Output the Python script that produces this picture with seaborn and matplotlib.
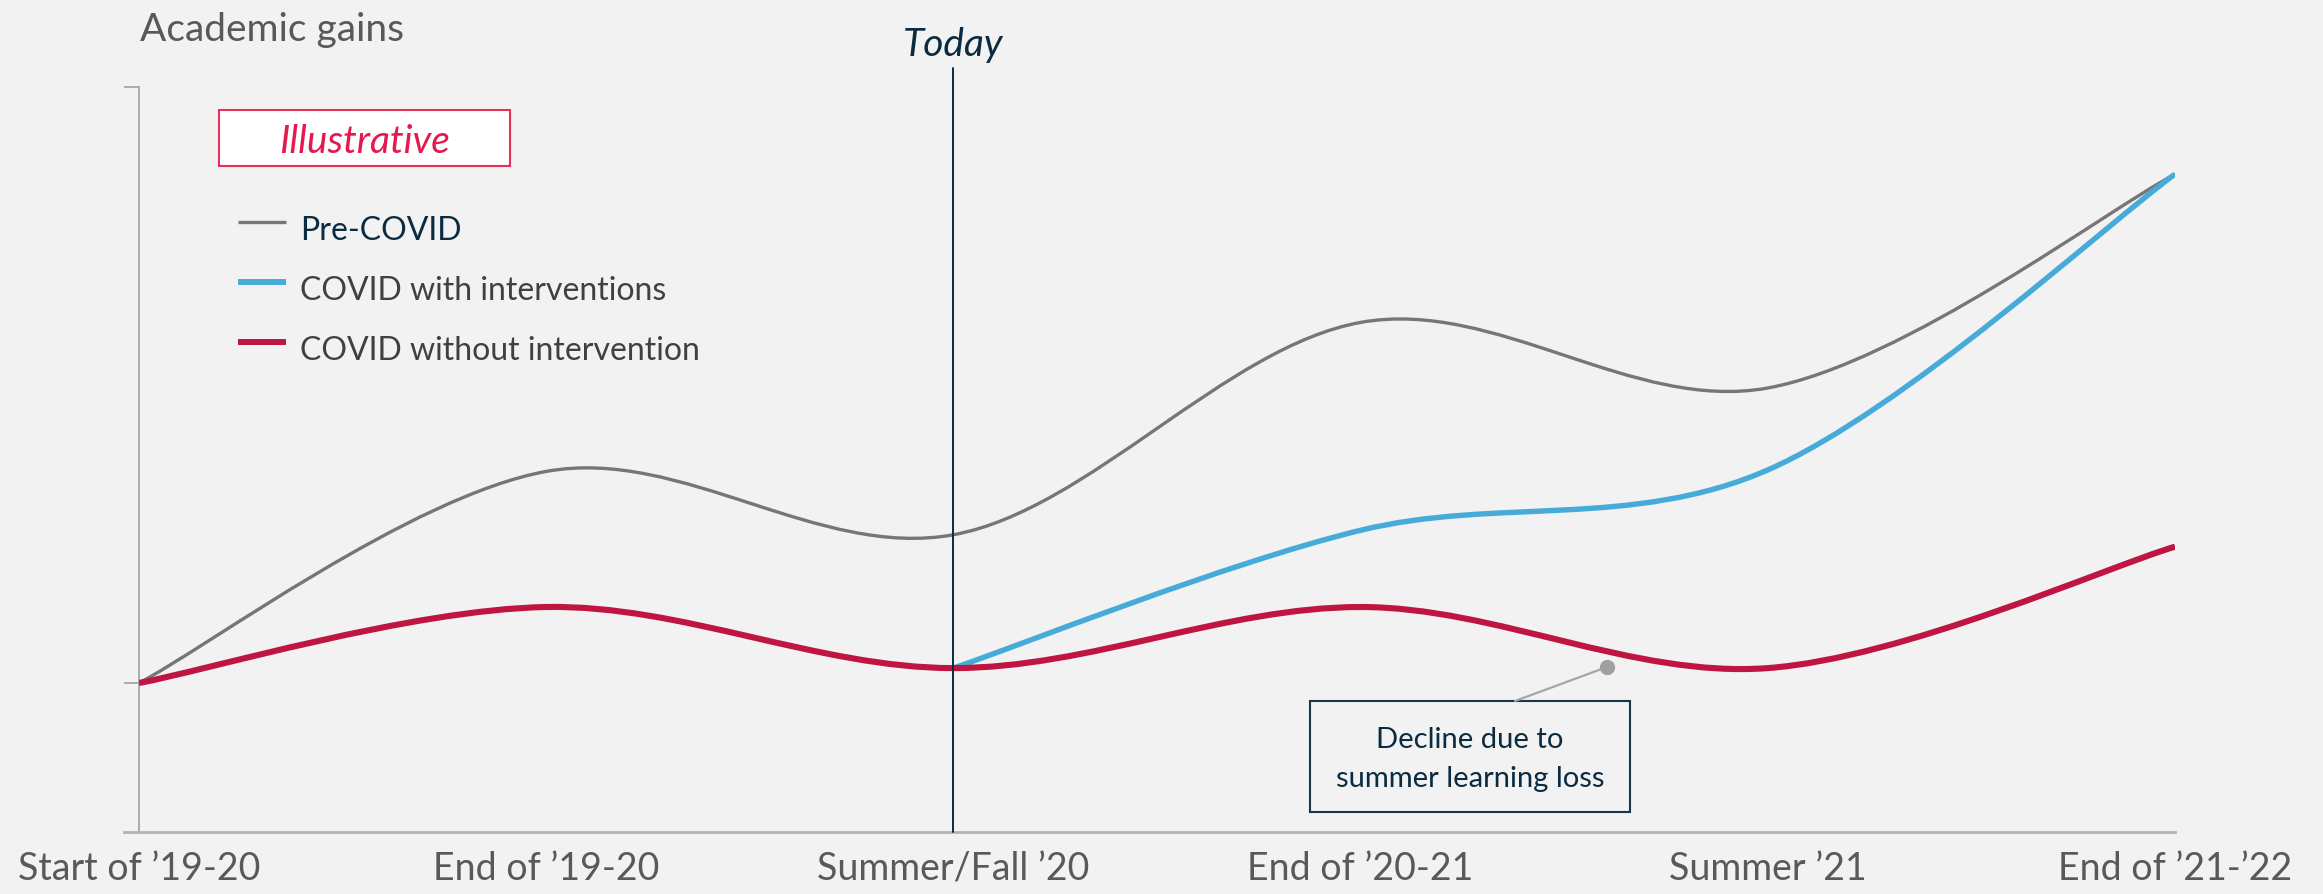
import numpy as np
import pandas as pd
import matplotlib
matplotlib.use("Agg")
import matplotlib.pyplot as plt
from matplotlib.path import Path
from matplotlib.patches import PathPatch, Rectangle
from matplotlib.lines import Line2D
import seaborn as sns

# ---------------- data ----------------
categories = ["Start of \u201919-20", "End of \u201919-20", "Summer/Fall \u201920",
              "End of \u201920-21", "Summer \u201921", "End of \u201921-\u201922"]
pre_covid = [20.0, 48.4, 39.9, 68.4, 59.6, 88.3]
with_interventions = [None, None, 22.0, 40.5, 48.6, 88.3]
without_intervention = [20.0, 30.2, 22.0, 30.2, 22.0, 38.3]
series_names = ["Pre-COVID", "COVID with interventions", "COVID without intervention"]
today_label = "Today"
today_category = "Summer/Fall \u201920"
y_axis_title = "Academic gains"
badge_text = "Illustrative"
callout_lines = ["Decline due to", "summer learning loss"]

# ---------------- style ----------------
BG = "#f2f2f2"
GRAY = "#767676"
BLUE = "#47abd9"
RED = "#be1641"
NAVY = "#0b2b40"
TXT = "#595959"
PINK = "#e5194f"

sns.set_theme(style="white", rc={"axes.facecolor": BG, "figure.facecolor": BG,
                                 "savefig.facecolor": BG})
plt.rcParams["font.family"] = ["Lato", "DejaVu Sans"]

W, H = 2323, 894
fig = plt.figure(figsize=(W / 100, H / 100), dpi=100)
ax = fig.add_axes([139 / W, (H - 832) / H, (2175 - 139) / W, (832 - 87) / H])

df = pd.DataFrame({"category": categories,
                   series_names[0]: pre_covid,
                   series_names[1]: with_interventions,
                   series_names[2]: without_intervention})
df["pos"] = np.arange(len(categories))
long = df.melt(id_vars=["category", "pos"], var_name="series", value_name="value").dropna()

ax.set_xlim(0, len(categories) - 1)
ax.set_ylim(0, 100)


def smooth_path(xs, ys):
    P = np.column_stack([xs, ys]).astype(float)
    n = len(P)
    verts = [P[0]]
    codes = [Path.MOVETO]
    for i in range(n - 1):
        p0 = P[i - 1] if i > 0 else P[i]
        p3 = P[i + 2] if i + 2 < n else P[i + 1]
        c1 = P[i] + (P[i + 1] - p0) / 6.0
        c2 = P[i + 1] - (p3 - P[i]) / 6.0
        verts += [c1, c2, P[i + 1]]
        codes += [Path.CURVE4] * 3
    return Path(verts, codes)


styles = {series_names[0]: (GRAY, 2.4, 2),
          series_names[1]: (BLUE, 3.9, 3),
          series_names[2]: (RED, 4.4, 4)}
for name, g in long.groupby("series", sort=False):
    color, lw, z = styles[name]
    p = smooth_path(g["pos"].values, g["value"].values)
    ax.add_patch(PathPatch(p, fill=False, edgecolor=color, lw=lw, zorder=z,
                           capstyle="butt", joinstyle="round"))

# today line
tx = categories.index(today_category)
ax.plot([tx, tx], [0, 102.6], color=NAVY, lw=1.4, zorder=6, clip_on=False)
ax.text(tx, 104.2, today_label, ha="center", va="baseline", fontsize=28,
        style="italic", color=NAVY, transform=ax.transData, clip_on=False)

# axes styling
sns.despine(ax=ax, top=True, right=True)
ax.spines["left"].set_color("#a6a6a6")
ax.spines["left"].set_linewidth(1.3)
ax.spines["bottom"].set_color("#b3b3b3")
ax.spines["bottom"].set_linewidth(2.0)
ax.spines["bottom"].set_bounds(-15 / 407.2, len(categories) - 1)
ax.set_yticks([pre_covid[0], 100])
ax.set_yticklabels([])
ax.tick_params(axis="y", left=True, length=11, width=1.3, color="#a6a6a6")
ax.set_xticks(range(len(categories)))
ax.set_xticklabels(categories, fontsize=27, color=TXT)
ax.tick_params(axis="x", bottom=False, length=0, pad=14)
ax.set_xlabel("")
ax.set_ylabel("")


def F(x, y):
    return x / W, 1 - y / H


# y-axis title
fig.text(*F(140, 41), y_axis_title, fontsize=28, color=TXT, va="baseline", ha="left")

# Illustrative badge
x0, y0 = F(219, 166)
fig.add_artist(Rectangle((x0, y0), (510 - 219) / W, (166 - 110) / H,
                         transform=fig.transFigure, facecolor="white",
                         edgecolor="#e8305c", lw=1.5, zorder=5))
fig.text(*F(365, 153), badge_text, fontsize=28, style="italic", color=PINK,
         ha="center", va="baseline", zorder=6)

# legend
leg_y = [222, 282, 342]
leg_txt_col = [NAVY, "#404040", "#404040"]
leg_lw = [2.4, 4.3, 4.3]
leg_col = [GRAY, BLUE, RED]
for name, yy, tc, lw, c in zip(series_names, leg_y, leg_txt_col, leg_lw, leg_col):
    xa, ya = F(238, yy)
    xb, _ = F(286, yy)
    fig.add_artist(Line2D([xa, xb], [ya, ya], color=c, lw=lw,
                          transform=fig.transFigure, solid_capstyle="butt"))
    fig.text(*F(300, yy + 18), name, fontsize=23, color=tc, ha="left", va="baseline")

# callout
bx0, by0 = F(1310, 812)
fig.add_artist(Rectangle((bx0, by0), (1630 - 1310) / W, (812 - 701) / H,
                         transform=fig.transFigure, facecolor=BG,
                         edgecolor="#17374d", lw=1.5, zorder=5))
fig.text(*F(1470, 748), callout_lines[0], fontsize=21, color=NAVY, ha="center",
         va="baseline", zorder=7)
fig.text(*F(1470, 787), callout_lines[1], fontsize=21, color=NAVY, ha="center",
         va="baseline", zorder=7)
xa, ya = F(1515, 701)
xb, yb = F(1607, 667)
fig.add_artist(Line2D([xa, xb], [ya, yb], color="#a6a6a6", lw=1.6,
                      transform=fig.transFigure, zorder=6))
fig.add_artist(Line2D([xb], [yb], marker="o", markersize=10, color="#a0a0a0",
                      transform=fig.transFigure, zorder=6))

fig.savefig("out.png", dpi=100, facecolor=BG)
